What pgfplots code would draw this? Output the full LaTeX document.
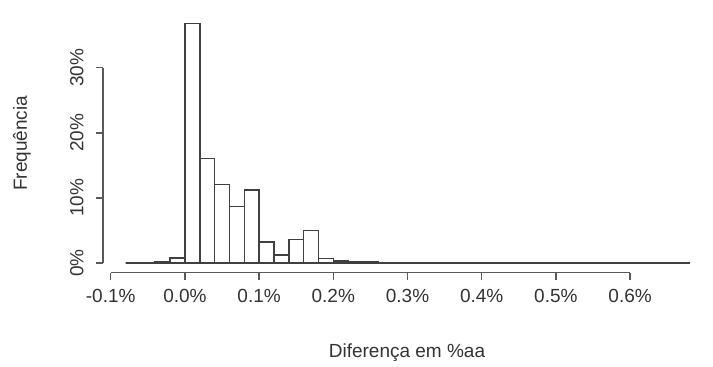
\documentclass[border=0pt]{standalone}
\usepackage{fontspec}
\setmainfont{Liberation Sans}
\usepackage{pgfplots}
\pgfplotsset{compat=1.18}
\begin{document}
\begin{tikzpicture}
\useasboundingbox (0pt,0pt) rectangle (713pt,367pt);
\begin{axis}[
  at={(103pt,94.4pt)}, anchor=south west,
  scale only axis, width=609pt, height=258.6pt,
  xmin=-0.1104, xmax=0.7104, ymin=-1.472, ymax=38.27,
  axis x line*=bottom, axis y line*=left, axis line style={draw=none},
  clip=false,
  xtick={-0.1,0,0.1,0.2,0.3,0.4,0.5,0.6},
  xticklabels={-0.1\%,0.0\%,0.1\%,0.2\%,0.3\%,0.4\%,0.5\%,0.6\%},
  ytick={0,10,20,30}, yticklabels={0\%,10\%,20\%,30\%},
  tick align=outside, major tick length=7pt,
  tick style={line width=1.3pt, color=black!65},
  every tick label/.append style={font=\fontsize{19}{23}\selectfont, text=black!80},
  yticklabel style={rotate=90, anchor=south},
  xticklabel style={anchor=north},
  xticklabel shift=6pt, yticklabel shift=9pt,
]
\draw[line width=1.3pt, black!65] (axis cs:-0.1,-1.472) -- (axis cs:0.6,-1.472);
\draw[line width=1.3pt, black!65] (axis cs:-0.1104,0) -- (axis cs:-0.1104,30);
\addplot[ybar interval, fill=white, draw=black!75, line width=1.5pt] coordinates {
(-0.08,0) (-0.06,0) (-0.04,0.15) (-0.02,0.8)
(0.00,36.8) (0.02,16.1) (0.04,12.1) (0.06,8.7) (0.08,11.2)
(0.10,3.2) (0.12,1.2) (0.14,3.6) (0.16,5.0) (0.18,0.7)
(0.20,0.3) (0.22,0.2) (0.24,0.15) (0.26,0.05) (0.28,0.02)
(0.30,0.02) (0.32,0.08) (0.34,0.05) (0.36,0.02) (0.38,0.02)
(0.40,0.02) (0.42,0.06) (0.44,0.02) (0.46,0.02) (0.48,0.02)
(0.50,0.02) (0.52,0.02) (0.54,0.02) (0.56,0.02) (0.58,0.02)
(0.60,0.02) (0.62,0.02) (0.64,0.02) (0.66,0.02) (0.68,0.02)
};
\end{axis}
\node[font=\fontsize{19}{23}\selectfont, text=black!80, rotate=90] at (22pt,223.7pt) {Frequência};
\node[font=\fontsize{19}{23}\selectfont, text=black!80] at (407pt,14pt) {Diferença em \%aa};
\end{tikzpicture}
\end{document}
